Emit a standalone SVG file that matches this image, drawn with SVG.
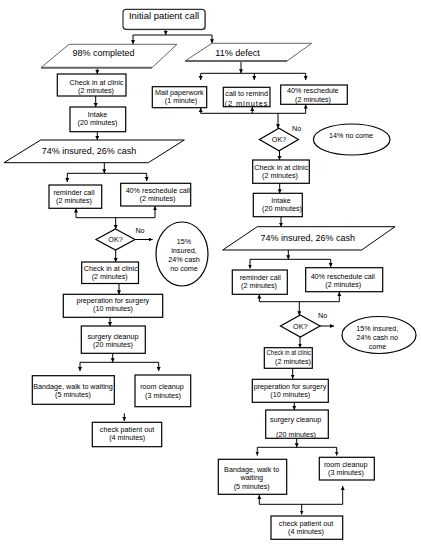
<svg xmlns="http://www.w3.org/2000/svg" width="421" height="544" viewBox="0 0 421 544">
<style>
.box{fill:#fff;stroke:#000;stroke-width:1.2}
.par{fill:#fff;stroke:#000;stroke-width:1}
.parg{fill:#fff;stroke:#666;stroke-width:1}
.edge{stroke:#666;stroke-width:2}
.t{font-family:"Liberation Sans",Arial,sans-serif;font-size:7.2px;text-anchor:middle;fill:#000}
.b{font-size:9px}
.ln{stroke:#000;stroke-width:1;fill:none}
.ar{stroke:#000;stroke-width:1;fill:none;marker-end:url(#ah)}
</style>
<defs>
<marker id="ah" markerUnits="userSpaceOnUse" markerWidth="5" markerHeight="5" refX="4" refY="2" orient="auto">
<path d="M0,0 L4,2 L0,4 z" fill="#000"/>
</marker>
<clipPath id="clipRemind"><rect x="223.3" y="87.3" width="46.7" height="19.4"/></clipPath>
</defs>

<g id="connectors">
<line class="ar" x1="165.7" y1="29.5" x2="165.7" y2="35"/>
<polyline class="ln" points="133,35 212,35"/>
<line class="ar" x1="133" y1="35" x2="133" y2="44"/>
<line class="ar" x1="212" y1="35" x2="212" y2="43.3"/>
<line class="ar" x1="97.3" y1="67.7" x2="97.3" y2="74"/>
<line class="ar" x1="95.7" y1="96" x2="95.7" y2="107"/>
<line class="ar" x1="97.3" y1="131.7" x2="97.3" y2="140"/>
<line class="ar" x1="104.3" y1="162.7" x2="104.3" y2="173.3"/>
<polyline class="ln" points="67.3,173.3 146.7,173.3"/>
<line class="ar" x1="67.3" y1="173.3" x2="67.3" y2="182"/>
<line class="ar" x1="146.7" y1="173.3" x2="146.7" y2="181"/>
<polyline class="ln" points="76,217.7 155,217.7"/>
<line class="ar" x1="76" y1="217.7" x2="76" y2="208.5"/>
<line class="ar" x1="155" y1="217.7" x2="155" y2="206.2"/>
<line class="ar" x1="115.7" y1="217.7" x2="115.7" y2="229"/>
<line class="ar" x1="135" y1="239.5" x2="152.7" y2="239.5"/>
<line class="ar" x1="115.7" y1="250" x2="115.7" y2="262"/>
<line class="ar" x1="119" y1="283.5" x2="119" y2="294.3"/>
<line class="ar" x1="110" y1="317.3" x2="110" y2="326"/>
<line class="ar" x1="112.7" y1="353.3" x2="112.7" y2="362.3"/>
<polyline class="ln" points="80,362.3 158.7,362.3"/>
<line class="ar" x1="80" y1="362.3" x2="80" y2="371"/>
<line class="ar" x1="158.7" y1="362.3" x2="158.7" y2="371"/>
<line class="ar" x1="124.3" y1="413.3" x2="124.3" y2="421"/>
<line class="ar" x1="241" y1="61" x2="241" y2="73.3"/>
<polyline class="ln" points="200.7,73.3 305.7,73.3"/>
<line class="ar" x1="200.7" y1="73.3" x2="200.7" y2="80"/>
<line class="ar" x1="254.3" y1="73.3" x2="254.3" y2="80"/>
<line class="ar" x1="305.7" y1="73.3" x2="305.7" y2="80"/>
<polyline class="ln" points="200.7,113.3 305.7,113.3"/>
<line class="ar" x1="200.7" y1="113.3" x2="200.7" y2="108"/>
<line class="ar" x1="252.3" y1="113.3" x2="252.3" y2="107"/>
<line class="ar" x1="305.7" y1="113.3" x2="305.7" y2="104.5"/>
<line class="ar" x1="278" y1="113.3" x2="278" y2="128.3"/>
<line class="ar" x1="279.5" y1="150.7" x2="279.5" y2="160"/>
<line class="ar" x1="279.7" y1="183.3" x2="279.7" y2="193.3"/>
<line class="ar" x1="281" y1="216.7" x2="281" y2="226.7"/>
<line class="ar" x1="288.3" y1="250" x2="288.3" y2="259.3"/>
<polyline class="ln" points="250,259.3 330.7,259.3"/>
<line class="ar" x1="250" y1="259.3" x2="250" y2="268.5"/>
<line class="ar" x1="330.7" y1="259.3" x2="330.7" y2="267"/>
<polyline class="ln" points="259.3,301.7 339.3,301.7"/>
<line class="ar" x1="259.3" y1="301.7" x2="259.3" y2="294.6"/>
<line class="ar" x1="339.3" y1="301.7" x2="339.3" y2="292"/>
<line class="ar" x1="299.3" y1="301.7" x2="299.3" y2="315.3"/>
<line class="ar" x1="320" y1="326" x2="334" y2="326"/>
<line class="ar" x1="300" y1="337" x2="300" y2="347.5"/>
<line class="ar" x1="292.7" y1="368.3" x2="292.7" y2="378.8"/>
<line class="ar" x1="294.3" y1="402.3" x2="294.3" y2="410"/>
<line class="ar" x1="296.7" y1="438.3" x2="296.7" y2="447.3"/>
<polyline class="ln" points="257.3,447.3 336.7,447.3"/>
<line class="ar" x1="257.3" y1="447.3" x2="257.3" y2="455.5"/>
<line class="ar" x1="336.7" y1="447.3" x2="336.7" y2="455.5"/>
<polyline class="ln" points="259.3,504.3 342.7,504.3"/>
<line class="ar" x1="259.3" y1="504.3" x2="259.3" y2="495"/>
<line class="ar" x1="342.7" y1="504.3" x2="342.7" y2="486"/>
<line class="ar" x1="301.7" y1="504.3" x2="301.7" y2="514.5"/>
</g>

<g id="initial">
<rect x="124" y="10.3" width="82" height="20" rx="3" fill="#999"/>
<rect x="123" y="9.3" width="82" height="20" rx="3" fill="#fff" stroke="#333" stroke-width="1.2"/>
<text class="t" x="164" y="18.5" style="font-size:9.5px">Initial patient call</text>
</g>

<g id="completed">
<polygon class="parg" points="69,44.3 177,44.3 152,67.7 41,67.7"/>
<line class="edge" x1="41" y1="67.7" x2="152" y2="67.7"/>
<text class="t b" x="103.5" y="56.2">98% completed</text>
</g>

<g id="defect">
<polygon class="parg" points="212,43.3 311.7,43.3 287,61 185,61"/>
<line class="edge" x1="185" y1="61" x2="287" y2="61"/>
<text class="t b" x="237.5" y="55.9">11% defect</text>
</g>

<g id="checkin-l1">
<rect class="box" x="57.3" y="74" width="68.7" height="22"/>
<text class="t" x="96.5" y="84.8">Check in at clinic</text>
<text class="t" x="96" y="92.7">(2 minutes)</text>
</g>

<g id="intake-l">
<rect class="box" x="70" y="107" width="55.7" height="24.7"/>
<text class="t" x="97.5" y="116.8">Intake</text>
<text class="t" x="97.5" y="124.8">(20 minutes)</text>
</g>

<g id="insured-l">
<polygon class="par" points="40.7,140 184.3,140 148.3,162.7 4,162.7"/>
<text class="t b" x="89" y="153.9">74% insured, 26% cash</text>
</g>

<g id="reminder-l">
<rect class="box" x="49" y="185" width="52.7" height="23.3"/>
<text class="t" x="74" y="195.2">reminder call</text>
<text class="t" x="74" y="203.2">(2 minutes)</text>
</g>

<g id="resched-l">
<rect class="box" x="120.7" y="183.3" width="70" height="22.7"/>
<text class="t" x="157.8" y="192.8">40% reschedule call</text>
<text class="t" x="157.5" y="201.2">(2 minutes)</text>
</g>

<g id="ok-l">
<polygon class="box" points="115.5,229 135,239.5 115.5,250 96,239.5"/>
<text class="t" x="115.5" y="242">OK?</text>
<text class="t" x="140" y="232.5">No</text>
</g>

<g id="nocome-l">
<ellipse class="box" cx="182" cy="254" rx="26" ry="32"/>
<text class="t" x="184" y="244.2">15%</text>
<text class="t" x="184" y="253.2">insured,</text>
<text class="t" x="184" y="261.8">24% cash</text>
<text class="t" x="184" y="270.8">no come</text>
</g>

<g id="checkin-l2">
<rect class="box" x="81.7" y="262" width="56.8" height="21.5"/>
<text class="t" x="110.8" y="270.8">Check in at clinic</text>
<text class="t" x="109.7" y="278.7">(2 minutes)</text>
</g>

<g id="prep-l">
<rect class="box" x="63.3" y="294.3" width="99.4" height="23"/>
<text class="t" x="112.8" y="303.2">preperation for surgery</text>
<text class="t" x="113" y="311.2">(10 minutes)</text>
</g>

<g id="cleanup-l">
<rect class="box" x="81.3" y="326" width="64" height="27.3"/>
<text class="t" x="113" y="338.5">surgery cleanup</text>
<text class="t" x="113" y="346.5">(20 minutes)</text>
</g>

<g id="bandage-l">
<rect class="box" x="32.3" y="375.7" width="82" height="28.6"/>
<text class="t" x="73" y="388.5">Bandage, walk to waiting</text>
<text class="t" x="73" y="396.8">(5 minutes)</text>
</g>

<g id="room-l">
<rect class="box" x="135" y="375" width="55.7" height="31.7"/>
<text class="t" x="162" y="389.2">room cleanup</text>
<text class="t" x="163" y="397.5">(3 minutes)</text>
</g>

<g id="checkout-l">
<rect class="box" x="92.3" y="422.3" width="69.4" height="24.4"/>
<text class="t" x="127" y="431.8">check patient out</text>
<text class="t" x="127.2" y="440.2">(4 minutes)</text>
</g>

<g id="mail">
<rect class="box" x="152.3" y="86.7" width="54.4" height="21"/>
<text class="t" x="179.3" y="95.2">Mail paperwork</text>
<text class="t" x="181" y="103">(1 minute)</text>
</g>

<g id="remind">
<rect class="box" x="223.3" y="87.3" width="46.7" height="19.4"/>
<text class="t" x="246.7" y="95.5">call to remind</text>
<text class="t" x="224.5" y="106" style="text-anchor:start;font-size:7.5px;letter-spacing:0.9px" clip-path="url(#clipRemind)">(2 minutes</text>
</g>

<g id="resched-r1">
<rect class="box" x="280.7" y="85" width="66.6" height="19.3"/>
<text class="t" x="312.8" y="93.3">40% reschedule</text>
<text class="t" x="313" y="101.8">(2 minutes)</text>
</g>

<g id="ok-r1">
<polygon class="box" points="279,128.3 298.5,139.5 279,150.7 259.5,139.5"/>
<text class="t" x="279" y="142">OK?</text>
<text class="t" x="296.7" y="131">No</text>
</g>

<g id="nocome-r1">
<ellipse class="box" cx="351.7" cy="139.5" rx="38.3" ry="15.5"/>
<text class="t" x="351" y="138.2">14% no come</text>
</g>

<g id="checkin-r1">
<rect class="box" x="252.7" y="160" width="56.6" height="23.3"/>
<text class="t" x="281.3" y="169.8">Check in at clinic</text>
<text class="t" x="280" y="177.8">(2 minutes)</text>
</g>

<g id="intake-r">
<rect class="box" x="253.3" y="193.3" width="49" height="23.4"/>
<text class="t" x="281" y="203.2">Intake</text>
<text class="t" x="282" y="211.2">(20 minutes)</text>
</g>

<g id="insured-r">
<polygon class="par" points="257.3,226.7 395,226.7 361.7,250 222.7,250"/>
<text class="t b" x="307.8" y="240.9">74% insured, 26% cash</text>
</g>

<g id="reminder-r">
<rect class="box" x="232.3" y="270" width="55" height="24.3"/>
<text class="t" x="260.3" y="279.8">reminder call</text>
<text class="t" x="259" y="287.7">(2 minutes)</text>
</g>

<g id="resched-r2">
<rect class="box" x="305.7" y="267.7" width="77" height="24"/>
<text class="t" x="342.8" y="278.5">40% reschedule call</text>
<text class="t" x="343.3" y="286.5">(2 minutes)</text>
</g>

<g id="ok-r2">
<polygon class="box" points="300.3,315 320,326 300.3,337 280.5,326"/>
<text class="t" x="300.3" y="328.5">OK?</text>
<text class="t" x="322.7" y="317.5">No</text>
</g>

<g id="nocome-r2">
<ellipse class="box" cx="379" cy="335" rx="37" ry="18.5"/>
<text class="t" x="377.3" y="330.8">15% insured,</text>
<text class="t" x="377.3" y="339.8">24% cash no</text>
<text class="t" x="377.5" y="348.5">come</text>
</g>

<g id="checkin-r2">
<rect class="box" x="264.3" y="347.7" width="48" height="20.6"/>
<text class="t" x="288.8" y="355.2" textLength="44.5" lengthAdjust="spacingAndGlyphs">Check in at clinic</text>
<text class="t" x="293" y="364.2">(2 minutes)</text>
</g>

<g id="prep-r">
<rect class="box" x="252.3" y="379.3" width="76" height="23"/>
<text class="t" x="290" y="389.2">preperation for surgery</text>
<text class="t" x="290.3" y="397">(10 minutes)</text>
</g>

<g id="cleanup-r">
<rect class="box" x="265.7" y="410" width="62.6" height="28.3"/>
<text class="t" x="295.7" y="421.8">surgery cleanup</text>
<text class="t" x="296" y="436.5">(20 minutes)</text>
</g>

<g id="bandage-r">
<rect class="box" x="218.3" y="459.3" width="68.4" height="35"/>
<text class="t" x="251.7" y="471.5">Bandage, walk to</text>
<text class="t" x="251.7" y="479.8">waiting</text>
<text class="t" x="251.7" y="488.5">(5 minutes)</text>
</g>

<g id="room-r">
<rect class="box" x="319.3" y="457.3" width="55" height="22.7"/>
<text class="t" x="345.7" y="466.8">room cleanup</text>
<text class="t" x="346" y="475.2">(3 minutes)</text>
</g>

<g id="checkout-r">
<rect class="box" x="271" y="516" width="71.7" height="23.3"/>
<text class="t" x="306" y="525.8">check patient out</text>
<text class="t" x="306" y="534.2">(4 minutes)</text>
</g>
</svg>
